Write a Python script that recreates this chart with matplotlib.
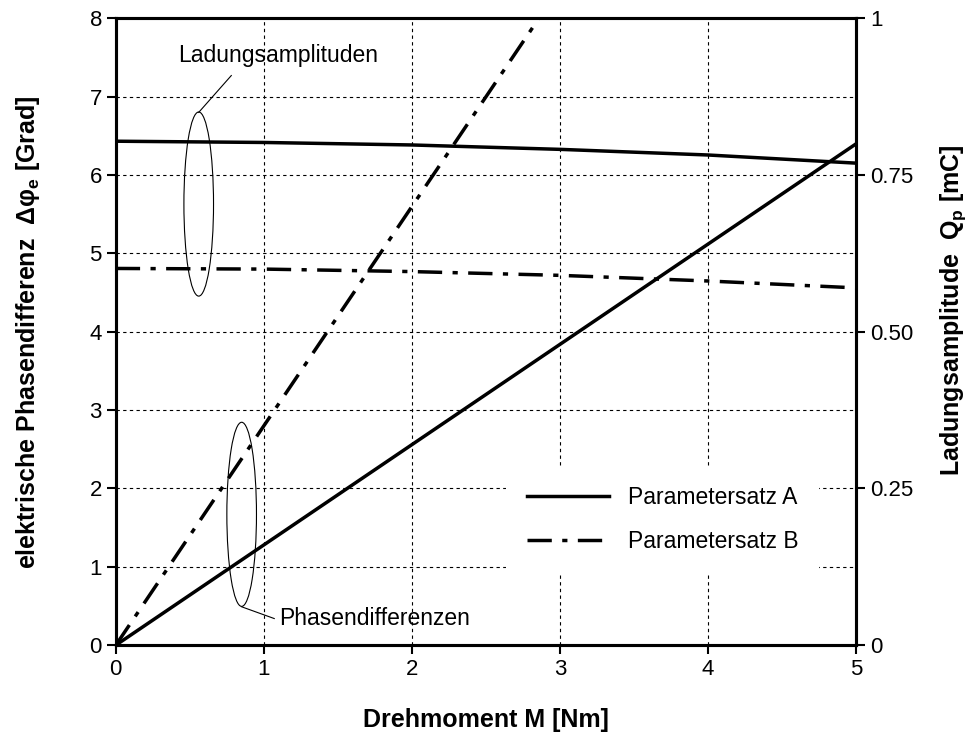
import matplotlib.pyplot as plt
from matplotlib.patches import Ellipse

plt.rcParams['font.family'] = ['Liberation Sans', 'DejaVu Sans']
plt.rcParams['mathtext.fontset'] = 'custom'
plt.rcParams['mathtext.rm'] = 'Liberation Sans'
plt.rcParams['mathtext.bf'] = 'Liberation Sans:bold'

# Drehmoment [Nm]
M = [0, 1, 2, 3, 4, 5]
# Phasendifferenz [Grad]
phaseA = [0, 1.28, 2.56, 3.84, 5.12, 6.40]
M_B = [0, 1, 2, 2.857]
phaseB = [0, 2.8, 5.6, 8.0]
# Ladungsamplitude [mC]
chargeA = [0.804, 0.802, 0.798, 0.791, 0.782, 0.769]
chargeB = [0.601, 0.600, 0.596, 0.590, 0.581, 0.570]

dashdot = (0, (7, 3, 1.5, 3))

fig = plt.figure(figsize=(9.73, 7.34), dpi=100)
ax = fig.add_axes([0.119, 0.121, 0.761, 0.854])
ax2 = ax.twinx()

ax.plot(M, phaseA, color="black", lw=2.5, label="Parametersatz A")
ax.plot(M_B, phaseB, color="black", lw=2.5, linestyle=dashdot, label="Parametersatz B")
ax2.plot(M, chargeA, color="black", lw=2.5)
ax2.plot(M, chargeB, color="black", lw=2.5, linestyle=dashdot)

ax.set_xlim(0, 5)
ax.set_ylim(0, 8)
ax2.set_ylim(0, 1)
ax.set_xticks([0, 1, 2, 3, 4, 5])
ax.set_yticks([0, 1, 2, 3, 4, 5, 6, 7, 8])
ax2.set_yticks([0, 0.25, 0.5, 0.75, 1])
ax2.set_yticklabels(["0", "0.25", "0.50", "0.75", "1"])
ax.grid(True, color="black", linestyle=(0, (3, 3)), lw=0.8)

for a in (ax, ax2):
    a.tick_params(labelsize=16, direction="out", length=6.5, width=1.5)
    for s in a.spines.values():
        s.set_linewidth(2.2)

ax.set_xlabel("Drehmoment M [Nm]", fontsize=18, fontweight="bold", labelpad=20)
ax.set_ylabel("elektrische Phasendifferenz  Δφ$_\\mathbf{e}$ [Grad]", fontsize=18, fontweight="bold", labelpad=34)
ax2.set_ylabel("Ladungsamplitude  Q$_\\mathbf{p}$ [mC]", fontsize=18, fontweight="bold", labelpad=18)
ax2.yaxis.label.set_y(0.534)

# Markierungen
ax.add_patch(Ellipse((0.56, 5.63), 0.2, 2.35, fill=False, lw=0.8, color="black"))
ax.plot([0.56, 0.78], [6.8, 7.27], color="black", lw=0.8)
ax.text(0.42, 7.52, "Ladungsamplituden", fontsize=16.5, va="center")
ax.add_patch(Ellipse((0.85, 1.67), 0.2, 2.35, fill=False, lw=0.8, color="black"))
ax.plot([0.85, 1.07], [0.49, 0.34], color="black", lw=0.8)
ax.text(1.1, 0.34, "Phasendifferenzen", fontsize=16.5, va="center")

leg = ax.legend(loc="lower right", bbox_to_anchor=(0.965, 0.096), fontsize=16.5, frameon=True,
                fancybox=False, edgecolor="white", framealpha=1, handlelength=3.6,
                borderpad=0.9, labelspacing=0.9)
leg.get_frame().set_linewidth(0)
ax.set_zorder(ax2.get_zorder() + 1)
ax.patch.set_visible(False)

fig.savefig("out.png", dpi=100)
